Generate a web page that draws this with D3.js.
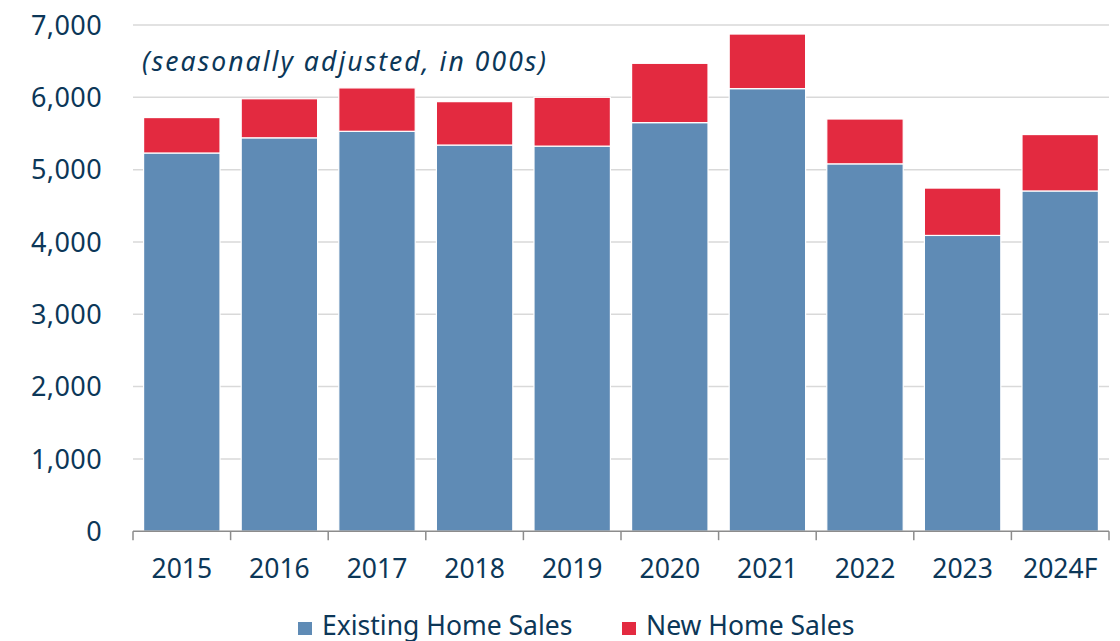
<!DOCTYPE html>
<html>
<head>
<meta charset="utf-8">
<script src="https://cdn.jsdelivr.net/npm/d3@7.9.0/dist/d3.min.js"></script>
<style>
  body { margin: 0; background: #fff; }
  text { font-family: "Noto Sans", sans-serif; fill: #0c3758; }
</style>
</head>
<body>
<div id="chart"></div>
<script>
// Chart data (thousands of units, seasonally adjusted)
const years = ['2015', '2016', '2017', '2018', '2019', '2020', '2021', '2022', '2023', '2024F'];
const existingSales = [5230, 5440, 5530, 5340, 5325, 5650, 6120, 5080, 4090, 4705];
const newSales = [490, 540, 600, 600, 675, 820, 755, 620, 655, 780];
const yTicks = [0, 1000, 2000, 3000, 4000, 5000, 6000, 7000];
const seriesNames = ['Existing Home Sales', 'New Home Sales'];
const colors = ['#5f8bb5', '#e32a40'];

const width = 1120, height = 641;
const margin = { top: 25, right: 11, bottom: 110, left: 133 };

const rows = years.map((y, i) => ({ year: y, existing: existingSales[i], new: newSales[i] }));
const stacked = d3.stack().keys(['existing', 'new'])(rows);

const svg = d3.select('#chart')
  .append('svg')
  .attr('width', width)
  .attr('height', height);

const x = d3.scaleBand()
  .domain(years)
  .range([margin.left, width - margin.right])
  .paddingInner(0.217)
  .paddingOuter(0.1085);

const y = d3.scaleLinear()
  .domain([0, 7000])
  .range([531.2, margin.top]);

// Gridlines
svg.append('g')
  .selectAll('line')
  .data(yTicks.filter(d => d > 0))
  .join('line')
  .attr('x1', margin.left)
  .attr('x2', width - margin.right)
  .attr('y1', d => y(d))
  .attr('y2', d => y(d))
  .attr('stroke', '#d9d9d9')
  .attr('stroke-width', 1.5);

// Y labels
svg.append('g')
  .selectAll('text')
  .data(yTicks)
  .join('text')
  .attr('x', 102)
  .attr('y', d => y(d))
  .attr('dy', '0.36em')
  .attr('text-anchor', 'end')
  .style('font-size', '27px')
  .style('letter-spacing', '0.4px')
  .text(d => d3.format(',')(d));

// Stacked bars
svg.append('g')
  .selectAll('g')
  .data(stacked)
  .join('g')
  .attr('fill', (d, i) => colors[i])
  .selectAll('rect')
  .data(d => d)
  .join('rect')
  .attr('x', d => x(d.data.year))
  .attr('width', x.bandwidth())
  .attr('y', d => y(d[1]))
  .attr('height', d => y(d[0]) - y(d[1]))
  .attr('stroke', '#fff')
  .attr('stroke-width', 1.2);

// X axis
const xAxisY = y(0);
const boundaries = years.map(d => x(d) - x.step() * x.paddingInner() / 2)
  .concat([width - margin.right]);

svg.append('line')
  .attr('x1', margin.left)
  .attr('x2', width - margin.right)
  .attr('y1', xAxisY)
  .attr('y2', xAxisY)
  .attr('stroke', '#8c8c8c')
  .attr('stroke-width', 1.5);

svg.append('g')
  .selectAll('line')
  .data(boundaries)
  .join('line')
  .attr('x1', d => d)
  .attr('x2', d => d)
  .attr('y1', xAxisY)
  .attr('y2', xAxisY + 9)
  .attr('stroke', '#8c8c8c')
  .attr('stroke-width', 1.5);

svg.append('g')
  .selectAll('text')
  .data(years)
  .join('text')
  .attr('x', d => x(d) + x.bandwidth() / 2)
  .attr('y', 578)
  .attr('text-anchor', 'middle')
  .style('font-size', '26.5px')
  .text(d => d);

// Subtitle
svg.append('text')
  .attr('x', 142)
  .attr('y', 71)
  .attr('textLength', 404)
  .attr('lengthAdjust', 'spacing')
  .style('font-size', '26.5px')
  .style('font-style', 'italic')
  .text('(seasonally adjusted, in 000s)');

// Legend
const legendX = [298, 622];
const legend = svg.append('g')
  .selectAll('g')
  .data(seriesNames)
  .join('g')
  .attr('transform', (d, i) => `translate(${legendX[i]}, 622)`);

legend.append('rect')
  .attr('width', 14)
  .attr('height', 13)
  .attr('fill', (d, i) => colors[i]);

legend.append('text')
  .attr('x', 24)
  .attr('y', 12.5)
  .style('font-size', '26.5px')
  .text(d => d);
</script>
</body>
</html>
